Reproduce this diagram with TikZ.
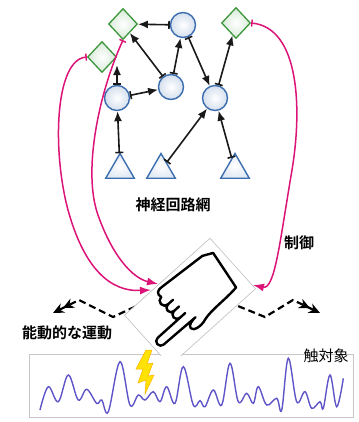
\documentclass[tikz,border=0pt]{standalone}
\usepackage{fontspec}
\newfontfamily\jp{Noto Sans CJK JP}[BoldFont={Noto Sans CJK JP Bold}]
\usetikzlibrary{arrows.meta,shapes.geometric}
\definecolor{ctrlpink}{RGB}{220,20,120}
\definecolor{cellblue}{RGB}{60,110,175}
\definecolor{cellgreen}{RGB}{60,150,60}
\definecolor{wave}{RGB}{95,85,200}

\begin{document}
\begin{tikzpicture}[x=1pt, y=-1pt,
    neuron/.style={circle, draw=cellblue, line width=1.4pt, inner color=white, outer color=cellblue!22, minimum size=25pt, inner sep=0pt},
    motor/.style={diamond, draw=cellgreen, line width=1.3pt, inner color=white, outer color=cellgreen!20, minimum width=29pt, minimum height=31pt, inner sep=0pt},
    sensor/.style={regular polygon, regular polygon sides=3, draw=cellblue, line width=1.4pt, inner color=white, outer color=cellblue!15, minimum size=33pt, inner sep=0pt},
    link/.style={{Bar[width=8pt]}-{Latex[length=10pt,width=8pt]}, line width=1.6pt, black!90},
    ctrl/.style={{Bar[width=7pt]}-{Latex[length=11pt,width=8pt]}, line width=1.5pt, ctrlpink},
    motion/.style={-{Stealth[length=11pt,width=10pt]Stealth[length=11pt,width=10pt]}, line width=2.2pt, dash pattern=on 7pt off 4pt},
    jptext/.style={font=\jp\bfseries\fontsize{15}{18}\selectfont}]
\useasboundingbox (0,0) rectangle (358,422);

% touched object with its surface signal
\node[draw=gray!45, fill=white, line width=0.8pt, minimum width=324pt, minimum height=63pt, inner sep=0pt, anchor=north west] (obj) at (29,354) {};
\draw[wave, line width=1.4pt] plot[smooth, tension=0.6] coordinates {
  (40,410) (48.3,386.7) (58.3,401.7) (68.3,375) (78.3,400) (86.7,389.3)
  (96.7,403.3) (101.7,400) (108.3,411.7) (120,361.7) (130,405) (138.3,395)
  (145,400) (153.3,391.7) (160,401.7) (166.7,386.7) (175,403.3) (183.3,366.7)
  (193.3,405) (200,400.7) (205,406.7) (213.3,390) (221.7,405) (230,363.3)
  (238.3,401.7) (246.7,393.3) (253.3,403.3) (258.3,386.7) (266.7,405) (276.7,398.3)
  (281.7,410) (288.3,358.3) (296.7,401.7) (305,391.7) (311.7,408.3) (320,401.7)
  (323.3,408.3) (330,375) (336.7,406.7) (343.3,378.3)};
\draw[draw=orange!60!yellow, fill=yellow!85!orange, line width=0.5pt]
  (146,350) -- (136,369) -- (143,369) -- (138,383) -- (146,380) -- (145,394)
  -- (154,375) -- (148,376) -- (153,363) -- (147,364) -- (152,350) -- cycle;

% network
\node[motor] (out1) at (123,24) {};
\node[neuron] (hid1) at (183,25) {};
\node[motor] (out2) at (236,23) {};
\node[motor] (out3) at (102,57) {};
\node[neuron] (hid2) at (171,87) {};
\node[neuron] (hid3) at (117,98) {};
\node[neuron] (hid4) at (215,98) {};
\node[sensor] (in1) at (120,170) {};
\node[sensor] (in2) at (161,170) {};
\node[sensor] (in3) at (235,170) {};

\draw[link] (hid1) -- (out1);
\draw[link] (hid2) -- (out1);
\draw[link] (hid2) -- (hid1);
\draw[link] (hid3) -- (hid2);
\draw[link] (hid3) -- (hid3 |- out3.south east);
\draw[link] (hid1) -- (hid4);
\draw[link] (hid4) -- (out2);
\draw[link] (in1) -- (hid3);
\draw[link] (in2) -- (hid4);
\draw[link] (in3) -- (hid4);

% control lines down to the finger
\coordinate (hit1) at (158,284);
\coordinate (hit2) at (151,290);
\coordinate (hit3) at (253,285);
\draw[ctrl] (out1.south) .. controls (100,90) and (82,170) .. (98,215) .. controls (112,255) and (132,278) .. (hit1);
\draw[ctrl] (out3.west) .. controls (55,60) and (52,150) .. (68,210) .. controls (84,268) and (110,292) .. (hit2);
\draw[ctrl] (out2.east) .. controls (300,28) and (302,110) .. (292,170) .. controls (280,240) and (275,290) .. (hit3);

% active movement
\coordinate (mvL0) at (145,302);
\coordinate (mvL1) at (113,317);
\coordinate (mvL2) at (79,300);
\coordinate (mvL3) at (53,313);
\coordinate (mvR0) at (228,302);
\coordinate (mvR1) at (265,317);
\coordinate (mvR2) at (293,300);
\coordinate (mvR3) at (320,313);
\draw[motion] (mvL0) -- (mvL1) -- (mvL2) -- (mvL3);
\draw[motion] (mvR0) -- (mvR1) -- (mvR2) -- (mvR3);

% finger card
\begin{scope}
\clip (0,0) rectangle (358,355);
\node[draw=gray!50, fill=white, line width=0.6pt, rotate=42, minimum width=115pt, minimum height=68pt] (card) at (190,302) {};
\begin{scope}[shift={(190,302)}, x=1pt, y=1pt, rotate=42, line width=2.4pt, line join=round, line cap=round]
\draw[fill=white] (-6,-15) -- (-48,-14) arc[start angle=270, end angle=90, radius=4.5] -- (-18,-5)
  arc[start angle=270, end angle=90, radius=4.5]
  arc[start angle=270, end angle=90, radius=4.5]
  arc[start angle=270, end angle=90, radius=5]
  .. controls (-20,28) and (-16,31) .. (-11,30) -- (40,26) -- (50,21) -- (44,-20)
  .. controls (30,-22) and (10,-20) .. (0,-23)
  .. controls (-8,-26) and (-17,-24) .. (-17,-20)
  .. controls (-17,-16) and (-10,-15) .. (-6,-15);
\draw (-18,-5) -- (-11,-5);
\draw (-18,4) -- (-11,4);
\draw (-18,13) -- (-11,13);
\end{scope}
\end{scope}

% labels
\node[jptext] (netname) at (173,205) {神経回路網};
\node[jptext] (ctrlname) at (299,243) {制御};
\node[jptext] (actname) at (67,333) {能動的な運動};
\node[font=\jp\fontsize{15}{18}\selectfont] (objname) at (326,356) {触対象};
\end{tikzpicture}
\end{document}
